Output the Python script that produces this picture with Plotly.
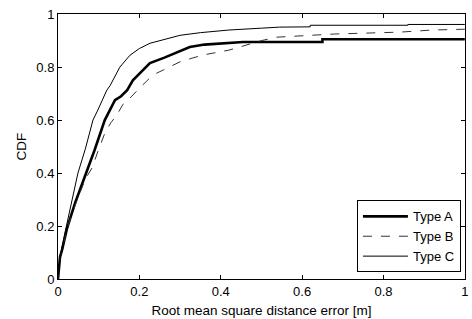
import plotly.graph_objects as go

x_a = [0, 0.005, 0.01, 0.022, 0.042, 0.066, 0.09, 0.115, 0.125, 0.14, 0.155, 0.17, 0.184, 0.2, 0.226, 0.26, 0.29, 0.324, 0.36, 0.42, 0.455, 0.65, 0.65, 1.0]
y_a = [0, 0.083, 0.11, 0.19, 0.287, 0.385, 0.487, 0.60, 0.63, 0.675, 0.69, 0.713, 0.75, 0.775, 0.815, 0.835, 0.855, 0.876, 0.885, 0.89, 0.895, 0.895, 0.905, 0.905]

x_b = [0, 0.005, 0.022, 0.045, 0.068, 0.084, 0.1, 0.115, 0.13, 0.145, 0.16, 0.175, 0.2, 0.233, 0.26, 0.30, 0.354, 0.42, 0.447, 0.5, 0.538, 0.6, 0.68, 0.84, 0.92, 1.0]
y_b = [0, 0.08, 0.19, 0.29, 0.38, 0.42, 0.49, 0.55, 0.59, 0.62, 0.66, 0.68, 0.72, 0.77, 0.79, 0.82, 0.845, 0.864, 0.876, 0.9, 0.913, 0.918, 0.925, 0.932, 0.94, 0.943]

x_c = [0, 0.005, 0.017, 0.029, 0.049, 0.067, 0.086, 0.098, 0.12, 0.128, 0.152, 0.177, 0.2, 0.226, 0.26, 0.30, 0.35, 0.42, 0.5, 0.545, 0.62, 0.62, 0.86, 0.86, 1.0]
y_c = [0, 0.083, 0.174, 0.26, 0.40, 0.49, 0.60, 0.638, 0.713, 0.73, 0.80, 0.845, 0.87, 0.89, 0.905, 0.92, 0.93, 0.94, 0.947, 0.951, 0.952, 0.958, 0.958, 0.961, 0.961]

tick_vals = [0, 0.2, 0.4, 0.6, 0.8, 1]
tick_text = ["0", "0.2", "0.4", "0.6", "0.8", "1"]

FONT = "Liberation Sans, Arial"

fig = go.Figure()
fig.add_trace(go.Scatter(x=x_a, y=y_a, mode="lines", name="Type A",
                         line=dict(color="black", width=2.6)))
fig.add_trace(go.Scatter(x=x_b, y=y_b, mode="lines", name="Type B",
                         line=dict(color="#333333", width=1, dash="dash")))
fig.add_trace(go.Scatter(x=x_c, y=y_c, mode="lines", name="Type C",
                         line=dict(color="black", width=1)))

axis_common = dict(range=[0, 1.0005], tickvals=tick_vals, ticktext=tick_text,
                   ticks="inside", ticklen=4, tickcolor="black",
                   showline=True, linecolor="black", linewidth=1,
                   mirror="allticks", showgrid=False, zeroline=False,
                   automargin=False,
                   tickfont=dict(family=FONT, size=13, color="black"))

fig.update_xaxes(**axis_common,
                 title=dict(text="Root mean square distance error [m]",
                            font=dict(family=FONT, size=13.5, color="black"),
                            standoff=7))
fig.update_yaxes(**axis_common,
                 title=dict(text="CDF",
                            font=dict(family=FONT, size=13.5, color="black"),
                            standoff=6))

fig.update_layout(
    width=472, height=319,
    margin=dict(l=58, r=7, t=14, b=40),
    paper_bgcolor="white", plot_bgcolor="white",
    showlegend=True,
    legend=dict(x=0.99, y=0.025, xanchor="right", yanchor="bottom",
                bgcolor="white", bordercolor="black", borderwidth=1,
                font=dict(family=FONT, size=13, color="black"),
                itemwidth=45, tracegroupgap=0),
)

fig.write_html("out.html", config={"displayModeBar": False},
               post_script="document.body.style.margin='0';document.body.style.overflow='hidden';")
